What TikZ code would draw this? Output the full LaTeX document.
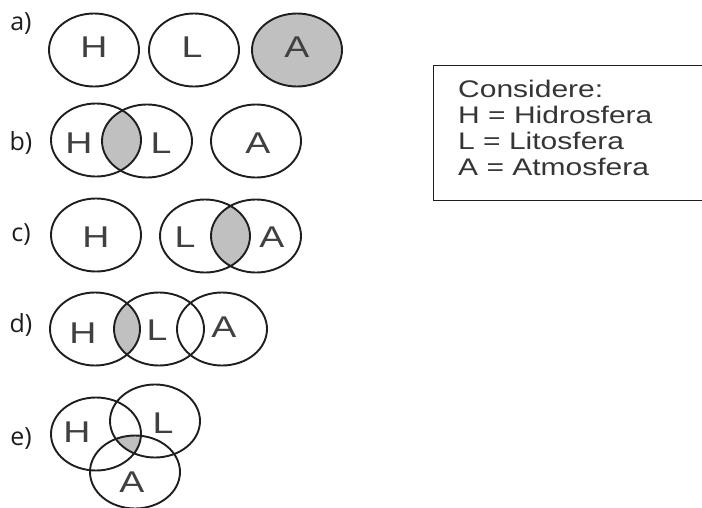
\documentclass[tikz,border=0pt]{standalone}
\usepackage{fontspec}
\setmainfont{Liberation Sans}
\newfontfamily\lblfont{Open Sans}
\newfontfamily\setfont[FakeStretch=1.25]{Liberation Sans}
\newfontfamily\boxfont[FakeStretch=1.25]{Liberation Sans}
\usetikzlibrary{shapes.geometric, backgrounds, positioning}
\definecolor{venngray}{RGB}{192,192,192}
\definecolor{ink}{RGB}{30,30,30}

\begin{document}
\begin{tikzpicture}[x=1pt, y=-1pt,
  venn/.style={draw=ink, ellipse, line width=1.9pt, minimum width=90pt, minimum height=73pt, inner sep=0pt},
  oval/.style={x radius=45pt, y radius=36.5pt},
  setname/.style={font=\setfont\fontsize{30}{30}\selectfont, text=ink!85, inner sep=0pt},
  itemlbl/.style={font=\lblfont\fontsize{25}{25}\selectfont, text=ink, inner sep=0pt}]
  \useasboundingbox (0,0) rectangle (702,507);

  % a)
  \node[itemlbl] (la) at (21,24) {a)};
  \node[venn] (aH) at (94,50) {};
  \node[venn] (aL) at (194,50) {};
  \node[venn, fill=venngray] (aA) at (297,50) {};
  \node[setname] at (94,47) {H};
  \node[setname] at (192,47) {L};
  \node[setname] at (297,47) {A};

  % b)
  \node[itemlbl] (lb) at (21,143) {b)};
  \node[venn] (bH) at (96,140) {};
  \node[venn] (bL) at (147,141) {};
  \node[venn] (bA) at (256,141) {};
  \node[setname] at (79,143) {H};
  \node[setname] at (161,143) {L};
  \node[setname] at (258,143) {A};

  % c)
  \node[itemlbl] (lc) at (21,235) {c)};
  \node[venn] (cH) at (96,235) {};
  \node[venn] (cL) at (205,236) {};
  \node[venn] (cA) at (256,236) {};
  \node[setname] at (96,237) {H};
  \node[setname] at (185,237) {L};
  \node[setname] at (272,237) {A};

  % d)
  \node[itemlbl] (ld) at (21,325) {d)};
  \node[venn] (dH) at (95,329) {};
  \node[venn] (dL) at (159,329) {};
  \node[venn] (dA) at (222,329) {};
  \node[setname] at (83,333) {H};
  \node[setname] at (157,330) {L};
  \node[setname] at (224,327) {A};

  % e)
  \node[itemlbl] (le) at (21,439) {e)};
  \node[venn] (eH) at (96,434) {};
  \node[venn] (eL) at (155,421) {};
  \node[venn] (eA) at (135,472) {};
  \node[setname] at (77,432) {H};
  \node[setname] at (163,423) {L};
  \node[setname] at (132,482) {A};

  % shaded intersections
  \begin{scope}[on background layer]
    \begin{scope}
      \clip (bH.center) ellipse [oval];
      \fill[venngray] (bL.center) ellipse [oval];
    \end{scope}
    \begin{scope}
      \clip (cL.center) ellipse [oval];
      \fill[venngray] (cA.center) ellipse [oval];
    \end{scope}
    \begin{scope}
      \clip (dH.center) ellipse [oval];
      \fill[venngray] (dL.center) ellipse [oval];
    \end{scope}
    \begin{scope}
      \clip (eH.center) ellipse [oval];
      \clip (eL.center) ellipse [oval];
      \fill[venngray] (eA.center) ellipse [oval];
    \end{scope}
  \end{scope}

  % legend
  \node[draw=ink, line width=1.3pt, anchor=north west, minimum width=285pt, minimum height=135pt, inner sep=0pt] (legendbox) at (433,65) {};
  \node[anchor=north west, align=left, inner sep=0pt, text=ink!90, font=\boxfont\fontsize{24}{26}\selectfont] (legend) at (458,80)
    {Considere:\\H = Hidrosfera\\L = Litosfera\\A = Atmosfera};
\end{tikzpicture}
\end{document}
